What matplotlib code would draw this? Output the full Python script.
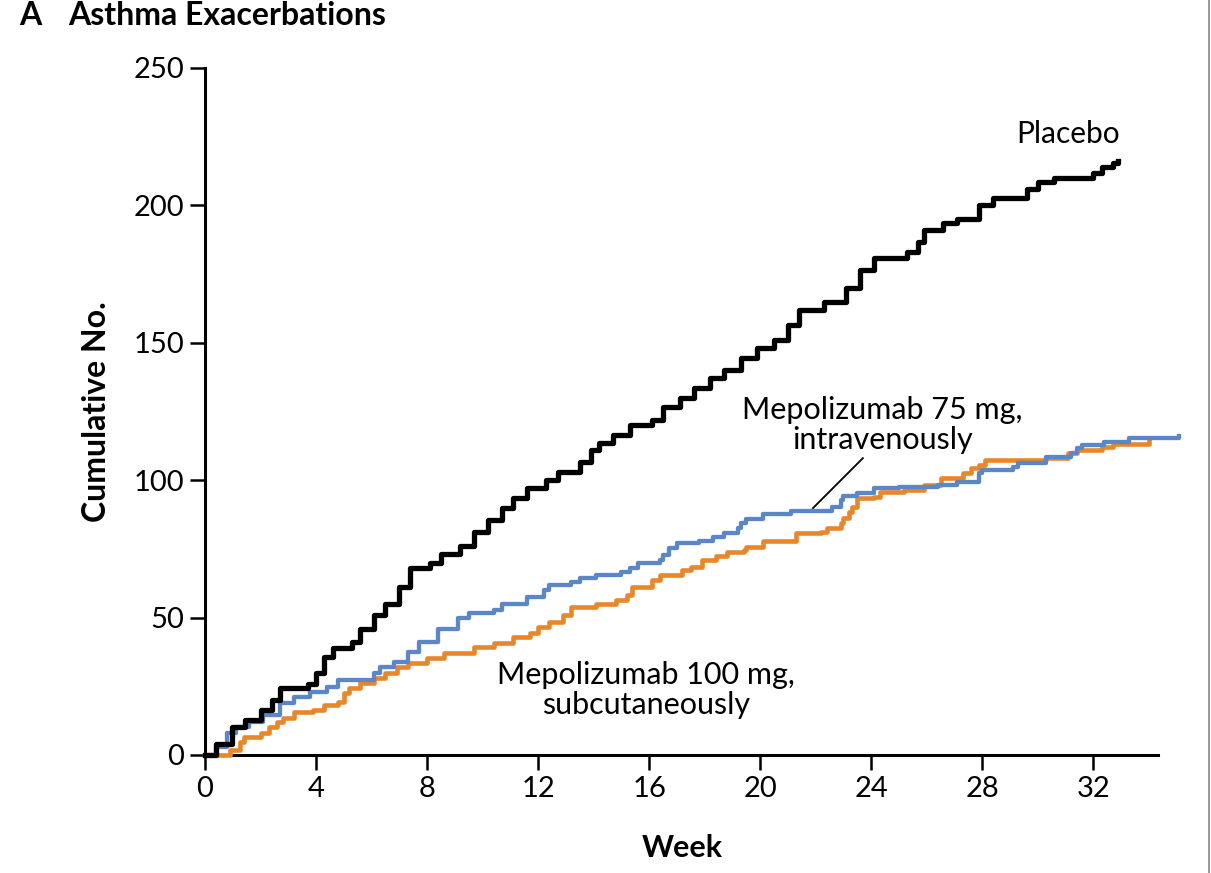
import matplotlib
matplotlib.use('Agg')
import matplotlib.pyplot as plt
import numpy as np

plt.rcParams['font.family'] = ['Lato', 'DejaVu Sans']

# cumulative exacerbations (week, count at that step)
placebo_wk = [0, 0.4, 0.97, 1.44, 2.0, 2.4, 2.7, 3.7, 4.0, 4.3, 4.6, 5.3, 5.6, 6.1, 6.5,
              7.0, 7.4, 8.1, 8.5, 9.2, 9.7, 10.2, 10.7, 11.1, 11.6, 12.3, 12.7, 13.5, 13.9, 14.2,
              14.7, 15.3, 16.1, 16.5, 17.1, 17.6, 18.2, 18.7, 19.3, 19.9, 20.5, 21.0, 21.4, 22.3, 23.1,
              23.6, 24.1, 25.3, 25.7, 25.9, 26.6, 27.1, 27.9, 28.4, 29.6, 30.0, 30.6, 32.0, 32.3, 32.7,
              32.9]
placebo_n = [0, 4, 10, 12.7, 16.4, 20, 24.4, 26, 30, 35.7, 39, 41, 46, 51, 55,
             61, 68, 70, 73, 76, 81, 85.5, 90, 93.5, 97, 100, 103, 106.6, 111, 113.5,
             116.5, 120, 122, 126.6, 130, 133.5, 137, 140, 144.5, 148, 151, 156.5, 162, 165, 170,
             176.5, 181, 183, 186.7, 191, 193.6, 195, 200, 202.7, 206, 208.5, 210, 211.8, 214, 215.4,
             216]

iv75_wk = [0, 0.4, 0.8, 1.1, 1.6, 2.1, 2.7, 3.2, 3.8, 4.4, 4.8, 6.1, 6.3, 6.8, 7.3,
           7.7, 8.4, 9.1, 9.5, 10.4, 10.7, 11.6, 12.2, 12.4, 13.2, 13.5, 14.1, 15.0, 15.3, 15.6,
           16.4, 16.5, 16.7, 17.0, 17.8, 18.3, 18.7, 19.2, 19.3, 19.5, 20.1, 21.1, 22.6, 22.9, 23.0,
           23.5, 24.1, 25.0, 26.4, 27.1, 27.9, 28.0, 29.1, 29.3, 30.3, 31.2, 31.4, 31.6, 32.4, 33.3,
           35.1]
iv75_n = [0, 3, 8, 10, 12, 14.5, 19, 21, 23, 24.7, 27.3, 30, 32, 34, 37.5,
          41, 46, 50, 51.6, 52.8, 55, 57.5, 60, 62, 63, 64.4, 65.5, 66.5, 68, 69.8,
          71, 72.8, 75.3, 77, 78, 79.4, 80.8, 82.6, 84.4, 85.9, 87.7, 88.8, 90.3, 92.8, 94.3,
          95.3, 97, 97.5, 98.3, 99.4, 102.6, 103.7, 104.8, 106.2, 108.4, 109.9, 111.7, 112.8, 113.9, 115.4,
          116]

sc100_wk = [0, 0.9, 1.26, 1.4, 2.0, 2.3, 2.6, 2.8, 3.2, 3.9, 4.3, 4.8, 5.0, 5.2, 5.6,
            6.1, 6.5, 6.9, 7.3, 8.0, 8.6, 9.7, 10.4, 11.1, 11.7, 12.0, 12.4, 12.9, 13.2, 14.1,
            14.8, 15.2, 15.4, 16.1, 16.4, 17.2, 17.5, 17.9, 18.4, 18.8, 19.4, 19.5, 20.1, 21.3, 22.2,
            22.4, 22.9, 23.0, 23.2, 23.3, 23.5, 24.1, 24.3, 25.2, 25.9, 26.5, 27.3, 27.6, 27.9, 28.1,
            30.3, 31.1, 31.4, 32.3, 32.7, 34.0]
sc100_n = [0, 1.8, 4.7, 6.5, 8, 10, 12, 13.4, 15.7, 16.4, 18.2, 19.3, 22.5, 24.4, 26.2,
           28, 29.8, 32, 33.5, 35.3, 37, 39.3, 40.7, 43, 44.4, 46.6, 48.4, 51, 54, 55,
           56.4, 58.2, 61, 63.7, 65.5, 67.3, 68.4, 71, 72.4, 74, 74.6, 75.7, 77.9, 80.8, 81.3,
           82.6, 84.4, 86.2, 88.4, 90.3, 93.5, 94, 95.7, 96.4, 98.3, 100.8, 102.6, 104.4, 105.5, 107.3,
           108, 109.9, 111, 112.2, 113.2, 114.5]

xticks = list(range(0, 33, 4))
yticks = [0, 50, 100, 150, 200, 250]

fig = plt.figure(figsize=(12.11, 8.73), dpi=100)
ax = fig.add_axes([0.1693, 0.1352, 0.8068, 0.787])

blue = '#5b87c6'
orange = '#e8862a'

ax.plot(sc100_wk, sc100_n, drawstyle='steps-post', color=orange, lw=3.3, clip_on=False, zorder=3)
ax.plot(iv75_wk, iv75_n, drawstyle='steps-post', color=blue, lw=3.1, clip_on=False, zorder=3)
ax.plot(placebo_wk, placebo_n, drawstyle='steps-post', color='black', lw=3.8, clip_on=False, zorder=4)

ax.set_xlim(0, 35.2)
ax.set_ylim(0, 250)
ax.spines['top'].set_visible(False)
ax.spines['right'].set_visible(False)
ax.spines['bottom'].set_bounds(0, 34.35)
for s in ['left', 'bottom']:
    ax.spines[s].set_linewidth(2.2)
ax.set_xticks(xticks)
ax.set_yticks(yticks)
ax.tick_params(direction='out', length=11, width=1.8, labelsize=21, pad=4)

ax.set_xlabel('Week', fontsize=22, fontweight='bold')
ax.xaxis.set_label_coords(34.35 / 2 / 35.2, -0.115)
ax.set_ylabel('Cumulative No.', fontsize=23, fontweight='bold', labelpad=16)

ax.text(31.1, 226, 'Placebo', fontsize=21.5, ha='center', va='center')
ax.text(24.4, 120, 'Mepolizumab 75 mg,\nintravenously', fontsize=22, ha='center', va='center',
        linespacing=1.1)
ax.text(15.9, 23.6, 'Mepolizumab 100 mg,\nsubcutaneously', fontsize=22, ha='center', va='center',
        linespacing=1.1)
ax.plot([21.9, 23.7], [89.8, 108], color='black', lw=1.3)

fig.text(0.016, 0.982, 'A', fontsize=23, fontweight='bold', va='center', ha='left')
fig.text(0.056, 0.982, 'Asthma Exacerbations', fontsize=23, fontweight='bold', va='center', ha='left')

fig.add_artist(plt.Line2D([0.9985, 0.9985], [0, 1], color='#888888', lw=1.2))

fig.savefig('out.png', dpi=100)
